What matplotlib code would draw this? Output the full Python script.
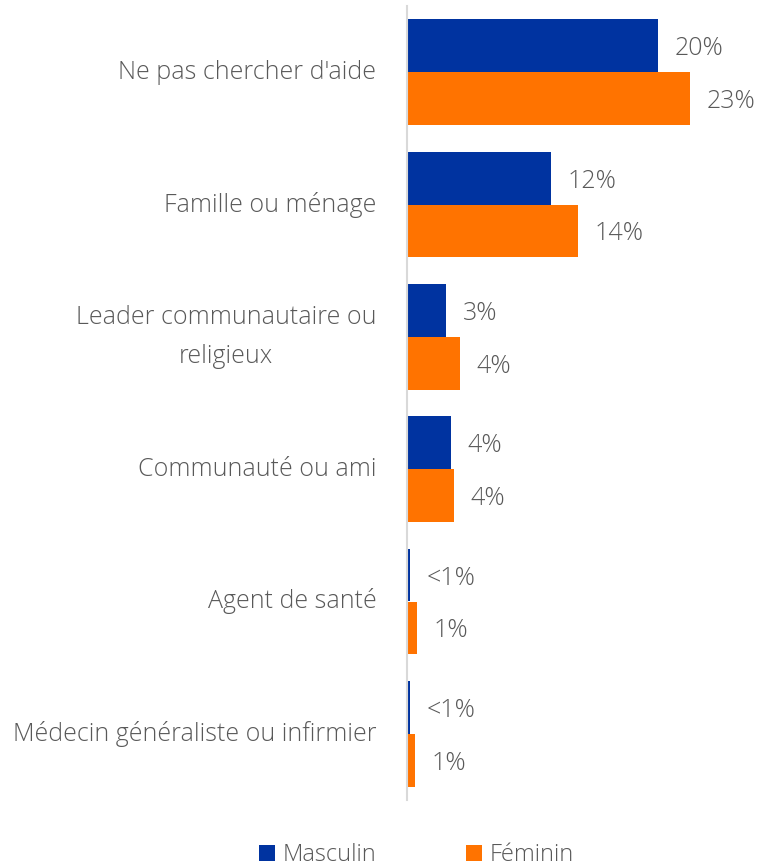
import matplotlib
matplotlib.use("Agg")
import matplotlib.pyplot as plt
import numpy as np

plt.rcParams["font.family"] = ["Open Sans", "DejaVu Sans"]
plt.rcParams["font.weight"] = "light"

categories = ["Ne pas chercher d'aide", "Famille ou ménage",
              "Leader communautaire ou\nreligieux", "Communauté ou ami",
              "Agent de santé", "Médecin généraliste ou infirmier"]
masculin = [19.9, 11.4, 3.1, 3.5, 0.2, 0.2]
feminin = [22.5, 13.6, 4.2, 3.7, 0.8, 0.6]
masc_labels = ["20%", "12%", "3%", "4%", "<1%", "<1%"]
fem_labels = ["23%", "14%", "4%", "4%", "1%", "1%"]

BLUE = "#0033A0"
ORANGE = "#FF7300"
GREY = "#595959"
FS = 18

fig = plt.figure(figsize=(7.71, 8.66), dpi=100)
ax = fig.add_axes([407/771, 1 - 800/866, 340/771, 794/866])

y = np.arange(len(categories))
h = 0.4
ax.barh(y - h/2, masculin, height=h, color=BLUE, label="Masculin")
ax.barh(y + h/2, feminin, height=h, color=ORANGE, label="Féminin")

for i in range(len(categories)):
    ax.annotate(masc_labels[i], (masculin[i], y[i] - h/2), xytext=(12, 0),
                textcoords="offset points", va="center_baseline", ha="left",
                fontsize=FS, color=GREY)
    ax.annotate(fem_labels[i], (feminin[i], y[i] + h/2), xytext=(12, 0),
                textcoords="offset points", va="center_baseline", ha="left",
                fontsize=FS, color=GREY)

ax.set_xlim(0, 27)
ax.set_ylim(len(categories) - 0.5, -0.5)
ax.set_yticks(y)
ax.set_yticklabels(categories, fontsize=FS, color=GREY, multialignment="center",
                   linespacing=1.75, va="center")
ax.tick_params(axis="y", length=0, pad=22)
ax.set_xticks([])
for s in ["top", "right", "bottom"]:
    ax.spines[s].set_visible(False)
ax.spines["left"].set_color("#D9D9D9")
ax.spines["left"].set_linewidth(1.5)

fig.legend(loc="lower center", bbox_to_anchor=(0.54, -0.026), ncol=2, frameon=False,
           fontsize=17, handlelength=0.7, handleheight=0.7, handletextpad=0.3,
           columnspacing=3.8, labelcolor=GREY)

plt.savefig("out.png", dpi=100)
